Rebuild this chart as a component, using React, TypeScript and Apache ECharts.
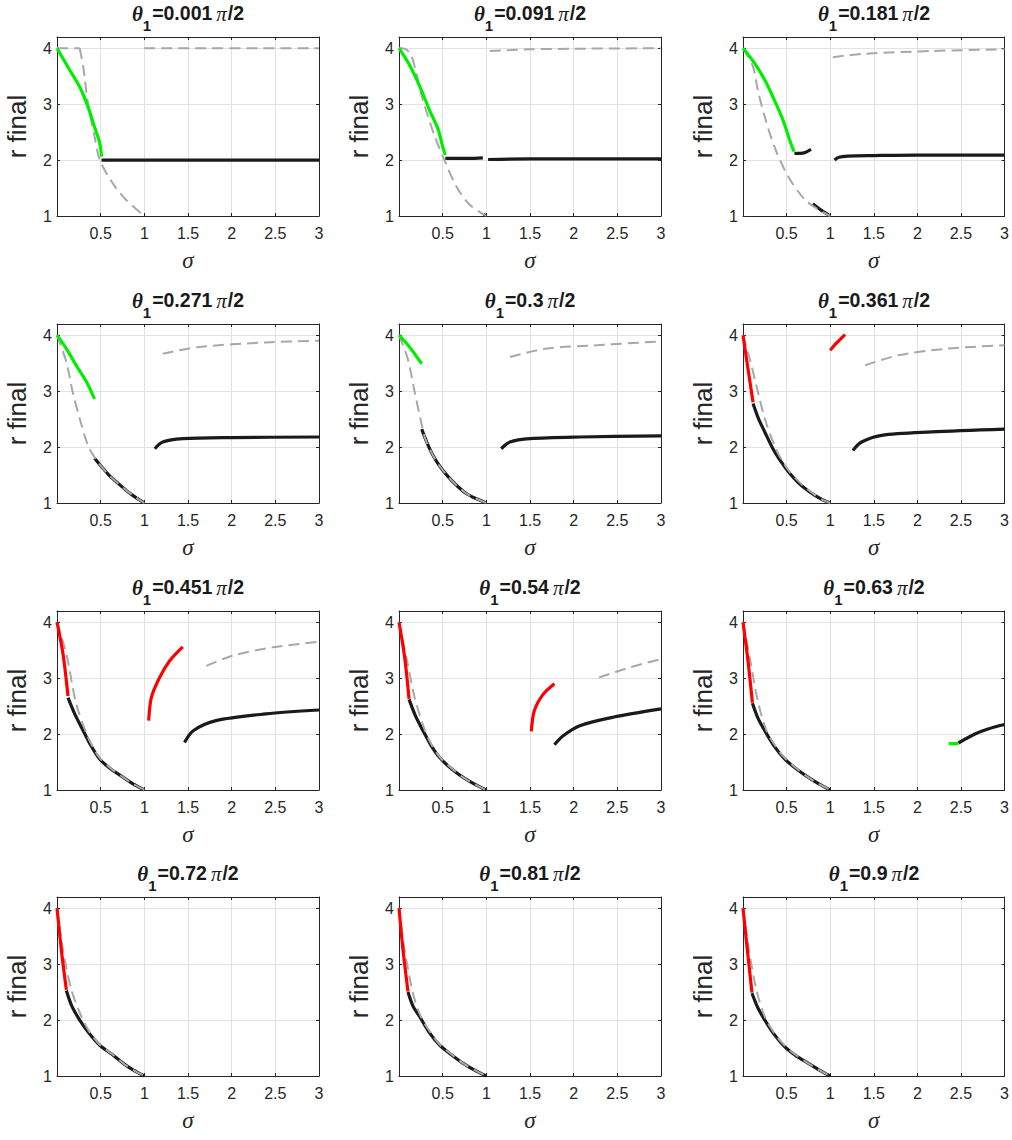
import React, { useEffect, useRef } from 'react';
import * as echarts from 'echarts';

// ---- data ----
const thetaLabels = ['0.001', '0.091', '0.181', '0.271', '0.3', '0.361', '0.451', '0.54', '0.63', '0.72', '0.81', '0.9'];
const xTickValues = [0.5, 1, 1.5, 2, 2.5, 3];
const yTickValues = [1, 2, 3, 4];

// panel 1 (θ1 = 0.001π/2)
const p1Green = [[0, 4], [0.145, 3.61], [0.26, 3.31], [0.355, 2.95], [0.43, 2.59], [0.49, 2.3], [0.51, 2.06]];
const p1Black = [[0.51, 2.0], [3, 2.0]];
const p1GrayFlat = [[0, 4], [0.26, 4]];
const p1GrayLow = [[0.26, 4], [0.3, 3.67], [0.355, 3.01], [0.43, 2.42], [0.49, 2.0], [0.64, 1.58], [0.79, 1.29], [1, 1]];
const p1GrayHigh = [[1, 4], [3, 4]];

// panel 2 (θ1 = 0.091π/2)
const p2Green = [[0, 4], [0.12, 3.7], [0.24, 3.31], [0.35, 2.89], [0.45, 2.54], [0.5, 2.24], [0.53, 2.09]];
const p2BlackA = [[0.53, 2.03], [0.8, 2.03], [0.96, 2.04]];
const p2BlackB = [[1.02, 2.01], [1.5, 2.02], [3, 2.02]];
const p2BlackC = [[0.97, 1.03], [1.0, 1.0]];
const p2GrayLow = [[0, 4], [0.08, 3.98], [0.14, 3.87], [0.2, 3.55], [0.25, 3.2], [0.31, 2.89], [0.41, 2.42], [0.52, 2.0], [0.66, 1.52], [0.81, 1.2], [1, 1]];
const p2GrayHigh = [[1.04, 3.95], [1.5, 3.98], [2, 3.99], [3, 4.0]];

// panel 3 (θ1 = 0.181π/2)
const p3Green = [[0, 4], [0.134, 3.73], [0.25, 3.43], [0.36, 3.07], [0.46, 2.71], [0.535, 2.36], [0.585, 2.15]];
const p3BlackA = [[0.59, 2.12], [0.66, 2.12], [0.72, 2.14], [0.78, 2.19]];
const p3BlackB = [[1.05, 2.0], [1.1, 2.05], [1.2, 2.07], [1.5, 2.08], [2, 2.09], [3, 2.09]];
const p3BlackC = [[0.8, 1.22], [0.9, 1.1], [1, 1]];
const p3GrayLow = [[0, 4], [0.115, 3.67], [0.17, 3.25], [0.25, 2.77], [0.36, 2.24], [0.52, 1.7], [0.71, 1.29], [0.86, 1.12], [1, 1]];
const p3GrayHigh = [[1.03, 3.84], [1.39, 3.9], [2.16, 3.95], [3, 3.98]];

// panel 4 (θ1 = 0.271π/2)
const p4Green = [[0, 4], [0.107, 3.76], [0.22, 3.46], [0.34, 3.16], [0.43, 2.86]];
const p4BlackA = [[0.43, 1.8], [0.52, 1.63], [0.6, 1.49], [0.7, 1.35], [0.79, 1.23], [0.9, 1.1], [1, 1]];
const p4BlackB = [[1.12, 1.97], [1.21, 2.09], [1.44, 2.15], [2.01, 2.17], [3, 2.18]];
const p4GrayLow = [[0, 4], [0.107, 3.52], [0.18, 2.98], [0.26, 2.51], [0.355, 2.03], [0.45, 1.77], [0.52, 1.63], [0.6, 1.49], [0.7, 1.35], [0.79, 1.23], [0.9, 1.1], [1, 1]];
const p4GrayHigh = [[1.21, 3.67], [1.63, 3.79], [2.39, 3.87], [3, 3.9]];

// panel 5 (θ1 = 0.3π/2)
const p5Green = [[0, 4], [0.12, 3.79], [0.26, 3.49]];
const p5BlackA = [[0.26, 2.32], [0.32, 2.08], [0.39, 1.85], [0.48, 1.63], [0.58, 1.44], [0.67, 1.3], [0.77, 1.17], [0.88, 1.08], [1, 1]];
const p5BlackB = [[1.17, 1.97], [1.27, 2.09], [1.5, 2.15], [2.07, 2.18], [3, 2.2]];
const p5GrayLow = [[0, 4], [0.1, 3.58], [0.18, 2.98], [0.245, 2.51], [0.3, 2.15], [0.39, 1.85], [0.48, 1.63], [0.58, 1.44], [0.67, 1.3], [0.77, 1.17], [0.88, 1.08], [1, 1]];
const p5GrayHigh = [[1.27, 3.61], [1.69, 3.76], [2.26, 3.82], [3, 3.89]];

// panel 6 (θ1 = 0.361π/2)
const p6RedA = [[0, 4], [0.057, 3.4], [0.115, 2.8]];
const p6RedB = [[1.0, 3.73], [1.08, 3.87], [1.17, 4.01]];
const p6BlackA = [[0.115, 2.78], [0.18, 2.5], [0.25, 2.27], [0.34, 1.98], [0.44, 1.73], [0.53, 1.54], [0.63, 1.37], [0.72, 1.25], [0.82, 1.14], [0.91, 1.06], [1, 1]];
const p6BlackB = [[1.26, 1.94], [1.36, 2.09], [1.59, 2.21], [2.16, 2.27], [3, 2.32]];
const p6GrayLow = [[0, 4], [0.077, 3.58], [0.153, 3.1], [0.25, 2.51], [0.36, 2.03], [0.44, 1.78], [0.53, 1.57], [0.63, 1.4], [0.72, 1.27], [0.82, 1.15], [0.91, 1.06], [1, 1]];
const p6GrayHigh = [[1.4, 3.46], [1.78, 3.64], [2.35, 3.76], [3, 3.82]];

// panel 7 (θ1 = 0.451π/2)
const p7RedA = [[0, 4], [0.069, 3.43], [0.126, 2.68]];
const p7RedB = [[1.05, 2.24], [1.08, 2.65], [1.175, 3.01], [1.29, 3.31], [1.44, 3.56]];
const p7BlackA = [[0.126, 2.65], [0.2, 2.37], [0.3, 2.06], [0.39, 1.79], [0.49, 1.55], [0.62, 1.37], [0.755, 1.23], [0.87, 1.11], [1, 1]];
const p7BlackB = [[1.46, 1.85], [1.56, 2.06], [1.82, 2.24], [2.39, 2.36], [3, 2.43]];
const p7GrayLow = [[0, 4], [0.107, 3.43], [0.22, 2.54], [0.34, 2.0], [0.41, 1.77], [0.49, 1.57], [0.62, 1.38], [0.755, 1.23], [0.87, 1.11], [1, 1]];
const p7GrayHigh = [[1.71, 3.22], [2.01, 3.4], [2.47, 3.55], [3, 3.65]];

// panel 8 (θ1 = 0.54π/2)
const p8RedA = [[0, 4], [0.065, 3.37], [0.115, 2.63]];
const p8RedB = [[1.515, 2.05], [1.55, 2.42], [1.65, 2.71], [1.78, 2.9]];
const p8BlackA = [[0.115, 2.62], [0.19, 2.32], [0.275, 2.06], [0.37, 1.79], [0.465, 1.58], [0.6, 1.38], [0.73, 1.23], [0.86, 1.11], [1, 1]];
const p8BlackB = [[1.78, 1.81], [1.88, 1.97], [2.07, 2.15], [2.45, 2.3], [3, 2.45]];
const p8GrayLow = [[0, 4], [0.085, 3.37], [0.18, 2.65], [0.3, 2.05], [0.38, 1.79], [0.465, 1.59], [0.6, 1.39], [0.73, 1.23], [0.86, 1.11], [1, 1]];
const p8GrayHigh = [[2.29, 3.01], [2.64, 3.19], [3, 3.34]];

// panel 9 (θ1 = 0.63π/2)
const p9RedA = [[0, 4], [0.057, 3.31], [0.108, 2.56]];
const p9Green = [[2.36, 1.83], [2.47, 1.83]];
const p9BlackA = [[0.108, 2.55], [0.17, 2.29], [0.25, 2.06], [0.36, 1.78], [0.48, 1.55], [0.61, 1.38], [0.745, 1.23], [0.87, 1.11], [1, 1]];
const p9BlackB = [[2.47, 1.84], [2.66, 2.0], [2.81, 2.09], [3, 2.17]];
const p9GrayLow = [[0, 4], [0.077, 3.37], [0.17, 2.59], [0.27, 2.06], [0.37, 1.79], [0.48, 1.57], [0.61, 1.39], [0.745, 1.23], [0.87, 1.11], [1, 1]];

// panel 10 (θ1 = 0.72π/2)
const p10Red = [[0, 4], [0.05, 3.25], [0.107, 2.54]];
const p10Black = [[0.107, 2.53], [0.17, 2.25], [0.26, 2.0], [0.37, 1.76], [0.49, 1.55], [0.64, 1.375], [0.755, 1.23], [0.87, 1.11], [1, 1]];
const p10GrayLow = [[0, 4], [0.069, 3.25], [0.165, 2.54], [0.28, 2.06], [0.38, 1.77], [0.49, 1.56], [0.64, 1.38], [0.755, 1.23], [0.87, 1.11], [1, 1]];

// panel 11 (θ1 = 0.81π/2)
const p11Red = [[0, 4], [0.046, 3.25], [0.103, 2.51]];
const p11Black = [[0.103, 2.5], [0.16, 2.25], [0.237, 2.06], [0.35, 1.77], [0.465, 1.55], [0.6, 1.38], [0.73, 1.23], [0.86, 1.11], [1, 1]];
const p11GrayLow = [[0, 4], [0.065, 3.25], [0.16, 2.48], [0.25, 2.06], [0.36, 1.78], [0.465, 1.56], [0.6, 1.39], [0.73, 1.23], [0.86, 1.11], [1, 1]];

// panel 12 (θ1 = 0.9π/2)
const p12Red = [[0, 4], [0.05, 3.25], [0.103, 2.49]];
const p12Black = [[0.103, 2.48], [0.17, 2.22], [0.25, 2.0], [0.36, 1.74], [0.48, 1.52], [0.61, 1.36], [0.745, 1.23], [0.87, 1.11], [1, 1]];
const p12GrayLow = [[0, 4], [0.069, 3.25], [0.153, 2.54], [0.25, 2.06], [0.36, 1.76], [0.48, 1.54], [0.61, 1.37], [0.745, 1.23], [0.87, 1.11], [1, 1]];

type Seg = number[][];
interface Panel { black: Seg[]; gray: Seg[]; green: Seg[]; red: Seg[] }

const panels: Panel[] = [
  { black: [p1Black], gray: [p1GrayFlat, p1GrayLow, p1GrayHigh], green: [p1Green], red: [] },
  { black: [p2BlackA, p2BlackB, p2BlackC], gray: [p2GrayLow, p2GrayHigh], green: [p2Green], red: [] },
  { black: [p3BlackA, p3BlackB, p3BlackC], gray: [p3GrayLow, p3GrayHigh], green: [p3Green], red: [] },
  { black: [p4BlackA, p4BlackB], gray: [p4GrayLow, p4GrayHigh], green: [p4Green], red: [] },
  { black: [p5BlackA, p5BlackB], gray: [p5GrayLow, p5GrayHigh], green: [p5Green], red: [] },
  { black: [p6BlackA, p6BlackB], gray: [p6GrayLow, p6GrayHigh], green: [], red: [p6RedA, p6RedB] },
  { black: [p7BlackA, p7BlackB], gray: [p7GrayLow, p7GrayHigh], green: [], red: [p7RedA, p7RedB] },
  { black: [p8BlackA, p8BlackB], gray: [p8GrayLow, p8GrayHigh], green: [], red: [p8RedA, p8RedB] },
  { black: [p9BlackA, p9BlackB], gray: [p9GrayLow], green: [p9Green], red: [p9RedA] },
  { black: [p10Black], gray: [p10GrayLow], green: [], red: [p10Red] },
  { black: [p11Black], gray: [p11GrayLow], green: [], red: [p11Red] },
  { black: [p12Black], gray: [p12GrayLow], green: [], red: [p12Red] },
];

// ---- layout ----
const COL_LEFT = [57, 399, 743];
const ROW_TOP = [37, 324, 611, 897];
const PW = 262;
const PH = 179;

const AXIS_COLOR = '#262626';
const GRID_COLOR = '#e2e2e2';
const SANS = '"Liberation Sans", Arial, sans-serif';
const SERIF = '"Liberation Serif", "DejaVu Serif", serif';

function buildOption() {
  const grid: any[] = [];
  const xAxis: any[] = [];
  const yAxis: any[] = [];
  const series: any[] = [];
  const graphic: any[] = [];

  panels.forEach((p, i) => {
    const left = COL_LEFT[i % 3];
    const top = ROW_TOP[Math.floor(i / 3)];
    grid.push({ left, top, width: PW, height: PH, containLabel: false });

    const tick = { show: true, inside: true, length: 3, lineStyle: { color: AXIS_COLOR, width: 1 } };
    const line = { show: true, onZero: false, lineStyle: { color: AXIS_COLOR, width: 1 } };

    xAxis.push({
      gridIndex: i, type: 'value', min: 0, max: 3, interval: 0.5, position: 'bottom',
      axisLine: line, axisTick: tick,
      axisLabel: {
        color: AXIS_COLOR, fontSize: 16, fontFamily: SANS, margin: 9,
        formatter: (v: number) => (xTickValues.includes(v) ? String(v) : ''),
      },
      splitLine: { show: true, lineStyle: { color: GRID_COLOR, width: 1 } },
      name: 'σ', nameLocation: 'middle', nameGap: 33,
      nameTextStyle: { color: AXIS_COLOR, fontSize: 23, fontFamily: SERIF, fontStyle: 'italic' },
    });
    xAxis.push({
      gridIndex: i, type: 'value', min: 0, max: 3, interval: 0.5, position: 'top',
      axisLine: line, axisTick: tick, axisLabel: { show: false }, splitLine: { show: false },
    });
    yAxis.push({
      gridIndex: i, type: 'value', min: 1, max: 4.2, interval: 1, position: 'left',
      axisLine: line, axisTick: tick,
      axisLabel: {
        color: AXIS_COLOR, fontSize: 16, fontFamily: SANS, margin: 5,
        formatter: (v: number) => (yTickValues.includes(v) ? String(v) : ''),
      },
      splitLine: { show: true, lineStyle: { color: GRID_COLOR, width: 1 } },
      name: 'r final', nameLocation: 'middle', nameRotate: 90, nameGap: 27,
      nameTextStyle: { color: AXIS_COLOR, fontSize: 26, fontFamily: SANS },
    });
    yAxis.push({
      gridIndex: i, type: 'value', min: 1, max: 4.2, interval: 1, position: 'right',
      axisLine: line, axisTick: tick, axisLabel: { show: false }, splitLine: { show: false },
    });

    const xi = i * 2;
    const yi = i * 2;
    const mk = (data: Seg, color: string, width: number, type: any, z: number) => ({
      type: 'line', xAxisIndex: xi, yAxisIndex: yi, data, showSymbol: false, symbol: 'none',
      smooth: 0.3, z, silent: true,
      lineStyle: { color, width, type, cap: 'butt' },
    });
    p.black.forEach((s) => series.push(mk(s, '#1a1a1a', 3.2, 'solid', 2)));
    p.gray.forEach((s) => series.push(mk(s, '#a8a8a8', 2, [11, 6], 3)));
    p.green.forEach((s) => series.push(mk(s, '#00ee00', 3.2, 'solid', 4)));
    p.red.forEach((s) => series.push(mk(s, '#ff0000', 3.2, 'solid', 4)));

    graphic.push({
      type: 'text', x: left + PW / 2, y: top - 34, z: 10,
      style: {
        text: `{t|θ}{s|1}{n|=${thetaLabels[i]}}{p|π}{n|/2}`,
        align: 'center', verticalAlign: 'top',
        rich: {
          t: { fontFamily: SERIF, fontStyle: 'italic', fontWeight: 'bold', fontSize: 21, lineHeight: 21, verticalAlign: 'top', fill: '#1a1a1a' },
          s: { fontFamily: SANS, fontWeight: 'bold', fontSize: 15, lineHeight: 30, verticalAlign: 'bottom', fill: '#1a1a1a', padding: [0, 1, 0, 0] },
          n: { fontFamily: SANS, fontWeight: 'bold', fontSize: 19.5, lineHeight: 21, verticalAlign: 'top', fill: '#1a1a1a' },
          p: { fontFamily: SERIF, fontStyle: 'italic', fontSize: 21, lineHeight: 21, verticalAlign: 'top', fill: '#1a1a1a', padding: [0, 1, 0, 4] },
        },
      },
    });
  });

  return { animation: false, backgroundColor: '#ffffff', grid, xAxis, yAxis, series, graphic };
}

export default function App() {
  const ref = useRef<HTMLDivElement>(null);
  useEffect(() => {
    if (!ref.current) return;
    const chart = echarts.init(ref.current, undefined, { renderer: 'svg' });
    chart.setOption(buildOption() as any);
    return () => chart.dispose();
  }, []);
  return (
    <div
      ref={ref}
      style={{ position: 'absolute', left: 0, top: 0, width: 1012, height: 1140, background: '#fff' }}
    />
  );
}
